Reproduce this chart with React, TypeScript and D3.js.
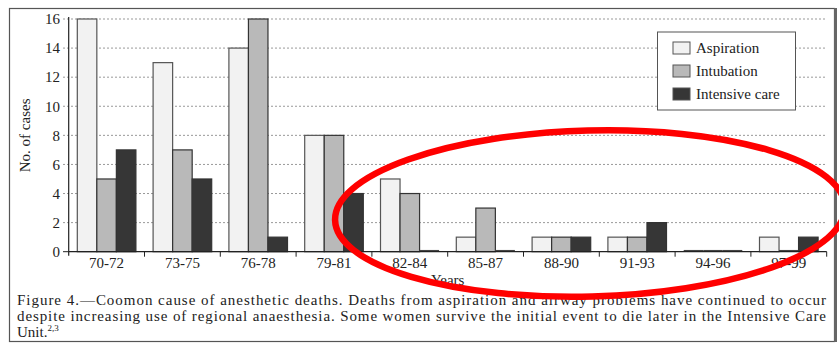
import React from "react";
import * as d3 from "d3";

const periods = ["70-72", "73-75", "76-78", "79-81", "82-84", "85-87", "88-90", "91-93", "94-96", "97-99"];
const seriesNames = ["Aspiration", "Intubation", "Intensive care"];
const aspiration = [16, 13, 14, 8, 5, 1, 1, 1, 0, 1];
const intubation = [5, 7, 16, 8, 4, 3, 1, 1, 0, 0];
const intensiveCare = [7, 5, 1, 4, 0, 0, 1, 2, 0, 1];
const yTicks = [0, 2, 4, 6, 8, 10, 12, 14, 16];
const seriesColors = ["#f2f2f2", "#b9b9b9", "#363636"];
const captionLines = [
  "Figure 4.\u2014Coomon cause of anesthetic deaths. Deaths from aspiration and airway problems have continued to occur",
  "despite increasing use of regional anaesthesia. Some women survive the initial event to die later in the Intensive Care",
];

const W = 839;
const H = 343;
const FONT = '"Liberation Serif", "DejaVu Serif", serif';
const ts = { fontFamily: FONT };

export default function App() {
  const left = 68.7;
  const right = 826.7;
  const top = 19;
  const bottom = 251.7;

  const x0 = d3.scaleBand<string>().domain(periods).range([left, right]).padding(0);
  const bw = x0.bandwidth();
  const pad = 8.6;
  const x1 = d3.scaleBand<string>().domain(seriesNames).range([pad, bw - pad]).padding(0);
  const y = d3.scaleLinear().domain([0, 16]).range([bottom, top]);

  const values = [aspiration, intubation, intensiveCare];

  return (
    <svg width={W} height={H} style={{ position: "absolute", left: 0, top: 0, background: "#fff", fontFamily: FONT }}>
      <rect x={0} y={0} width={W} height={H} fill="#fff" />
      {/* outer frame */}
      <rect x={9.5} y={8.5} width={825} height={333} fill="none" stroke="#555" strokeWidth={1.2} />
      <line x1={835.5} y1={8} x2={835.5} y2={342} stroke="#666" strokeWidth={3} />

      {/* grid */}
      {yTicks.filter((t) => t > 0).map((t) => (
        <line key={t} x1={63} x2={right} y1={y(t)} y2={y(t)} stroke="#999" strokeWidth={1} strokeDasharray="2,2" />
      ))}
      <line x1={63} x2={left} y1={y(0)} y2={y(0)} stroke="#222" />

      {/* y tick labels */}
      {yTicks.map((t) => (
        <text key={t} x={60} y={y(t)} dy="0.35em" textAnchor="end" fontSize={15} fill="#222" style={ts}>{t}</text>
      ))}

      {/* bars */}
      {periods.map((p, i) => (
        <g key={p} transform={`translate(${x0(p)},0)`}>
          {seriesNames.map((s, j) => {
            const v = values[j][i];
            if (v === 0) {
              return (
                <line key={s} x1={x1(s)!} x2={x1(s)! + x1.bandwidth()} y1={y(0) - 1} y2={y(0) - 1} stroke="#444" strokeWidth={1.5} />
              );
            }
            return (
              <rect
                key={s}
                x={x1(s)}
                y={y(v)}
                width={x1.bandwidth()}
                height={y(0) - y(v)}
                fill={seriesColors[j]}
                stroke={j === 0 ? "#555" : "#333"}
                strokeWidth={1.2}
              />
            );
          })}
        </g>
      ))}

      {/* axes */}
      <line x1={left} x2={left} y1={top - 2} y2={bottom + 4} stroke="#222" strokeWidth={1.2} />
      <line x1={left} x2={right} y1={bottom} y2={bottom} stroke="#222" strokeWidth={1.2} />
      {periods.map((p) => (
        <line key={p} x1={x0(p)! + bw} x2={x0(p)! + bw} y1={bottom} y2={bottom + 5} stroke="#222" />
      ))}
      {periods.map((p) => (
        <text key={p} x={x0(p)! + bw / 2} y={268} textAnchor="middle" fontSize={15} fill="#222" style={ts}>{p}</text>
      ))}
      <text x={(left + right) / 2} y={284.5} textAnchor="middle" fontSize={15} fill="#222" style={ts}>Years</text>
      <text transform={`translate(30,${(top + bottom) / 2}) rotate(-90)`} textAnchor="middle" fontSize={15} fill="#222" style={ts}>No. of cases</text>

      {/* legend */}
      <rect x={657.5} y={32} width={138} height={78} fill="#fff" stroke="#555" strokeWidth={1} />
      {seriesNames.map((s, j) => (
        <g key={s} transform={`translate(673,${42 + j * 23})`}>
          <rect x={0} y={0} width={17} height={12} fill={seriesColors[j]} stroke="#555" strokeWidth={1} />
          <text x={23} y={11} fontSize={15} fill="#222" style={ts}>{s}</text>
        </g>
      ))}

      {/* caption */}
      {captionLines.map((l, i) => (
        <text key={i} x={17} y={305 + i * 15.5} fontSize={15} fill="#222" textLength={809} lengthAdjust="spacing" style={ts}>{l}</text>
      ))}
      <text x={17} y={336.5} fontSize={15} fill="#222" style={ts}>
        Unit.<tspan fontSize={9} dy={-6}>2,3</tspan>
      </text>

      {/* red annotation ellipse */}
      <ellipse cx={590} cy={213.5} rx={255} ry={83} fill="none" stroke="#ff0000" strokeWidth={6.5} transform="rotate(-1.5 590 213.5)" />
    </svg>
  );
}
